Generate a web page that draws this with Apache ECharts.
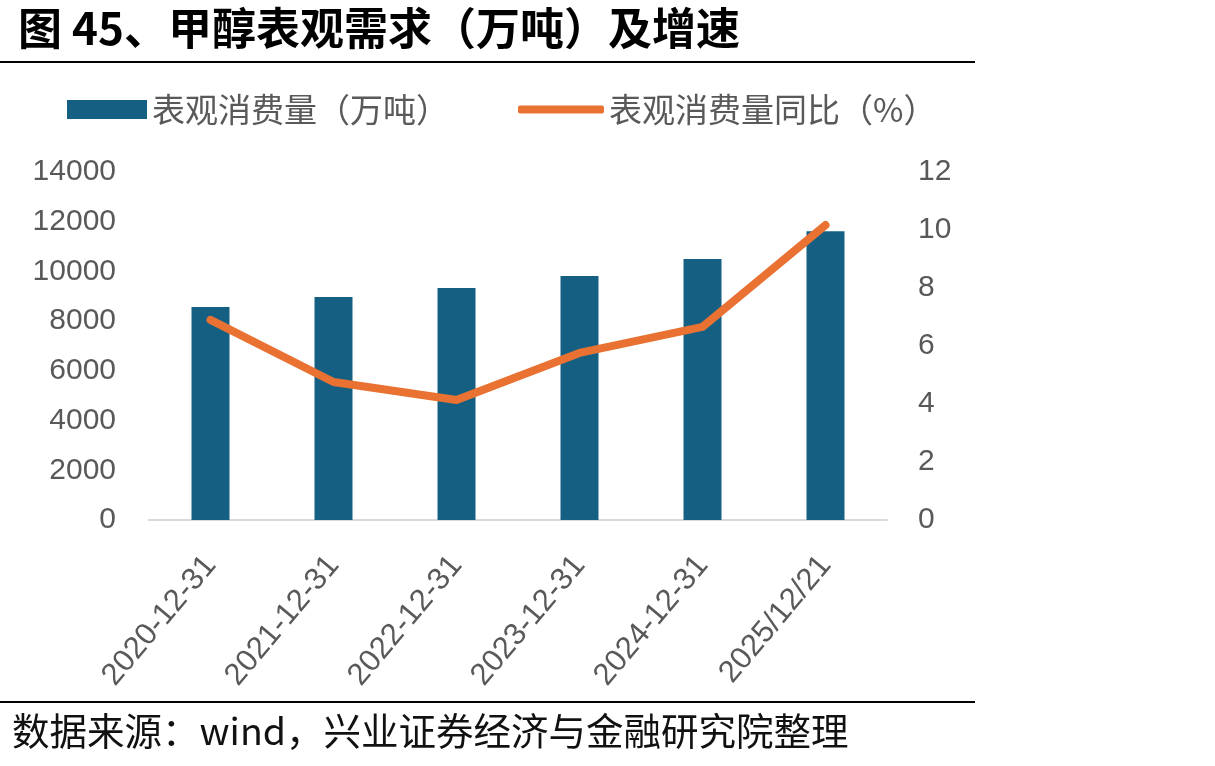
<!DOCTYPE html>
<html>
<head>
<meta charset="utf-8">
<script src="https://cdn.jsdelivr.net/npm/echarts@6/dist/echarts.min.js"></script>
<style>
  html, body { margin: 0; padding: 0; background: #fff; }
  #chart { width: 1215px; height: 766px; }
</style>
</head>
<body>
<div id="chart"></div>
<script>
const categories = ['2020-12-31', '2021-12-31', '2022-12-31', '2023-12-31', '2024-12-31', '2025/12/21']
const consumption = [8570, 8970, 9330, 9820, 10500, 11620]
const yoy = [6.9, 4.76, 4.14, 5.76, 6.66, 10.17]
const leftTicks = { min: 0, max: 14000, interval: 2000 }
const rightTicks = { min: 0, max: 12, interval: 2 }

const titleText = '图 45、甲醇表观需求（万吨）及增速'
const sourceText = '数据来源：wind，兴业证券经济与金融研究院整理'
const barName = '表观消费量（万吨）'
const lineName = '表观消费量同比（%）'

const cjk = '"Noto Sans CJK SC", "Noto Sans", sans-serif'
const latin = '"Liberation Sans", Arial, sans-serif'

const chart = echarts.init(document.getElementById('chart'), null, { renderer: 'canvas' })

chart.setOption({
  backgroundColor: '#fff',
  animation: false,
  graphic: [
    {
      type: 'text', left: 18, top: 6,
      style: { text: titleText, font: 'bold 44px ' + cjk, fill: '#000' }
    },
    { type: 'line', shape: { x1: 0, y1: 62, x2: 975, y2: 62 }, style: { stroke: '#000', lineWidth: 2 } },
    { type: 'line', shape: { x1: 0, y1: 702, x2: 975, y2: 702 }, style: { stroke: '#000', lineWidth: 2 } },
    {
      type: 'text', left: 12, top: 712,
      style: { text: sourceText, font: '37.5px ' + cjk, fill: '#111' }
    }
  ],
  legend: [
    {
      data: [barName], left: 62, top: 88,
      itemWidth: 80, itemHeight: 19, icon: 'rect',
      textStyle: { fontSize: 33, color: '#595959', fontFamily: cjk }
    },
    {
      data: [lineName], left: 513, top: 88,
      itemWidth: 86, itemHeight: 8, icon: 'roundRect',
      textStyle: { fontSize: 33, color: '#595959', fontFamily: cjk }
    }
  ],
  grid: { left: 149, right: 328, top: 172, bottom: 246, containLabel: false },
  xAxis: {
    type: 'category',
    data: categories,
    axisLine: { lineStyle: { color: '#d9d9d9', width: 2 } },
    axisTick: { show: false },
    axisLabel: { rotate: 50, margin: 40, fontSize: 31, color: '#595959', fontFamily: latin, interval: 0 }
  },
  yAxis: [
    {
      type: 'value', ...leftTicks,
      splitLine: { show: false },
      axisLine: { show: false },
      axisLabel: { margin: 33, fontSize: 30, color: '#595959', fontFamily: latin, formatter: v => String(v) }
    },
    {
      type: 'value', ...rightTicks,
      splitLine: { show: false },
      axisLine: { show: false },
      axisLabel: { margin: 31, fontSize: 30, color: '#595959', fontFamily: latin, formatter: v => String(v) }
    }
  ],
  series: [
    {
      name: barName, type: 'bar', data: consumption, yAxisIndex: 0,
      barWidth: 38, itemStyle: { color: '#156082' }
    },
    {
      name: lineName, type: 'line', data: yoy, yAxisIndex: 1,
      symbol: 'none', lineStyle: { color: '#E97132', width: 8, cap: 'round', join: 'round' },
      itemStyle: { color: '#E97132' }
    }
  ]
})

window.addEventListener('resize', () => chart.resize())
</script>
</body>
</html>
